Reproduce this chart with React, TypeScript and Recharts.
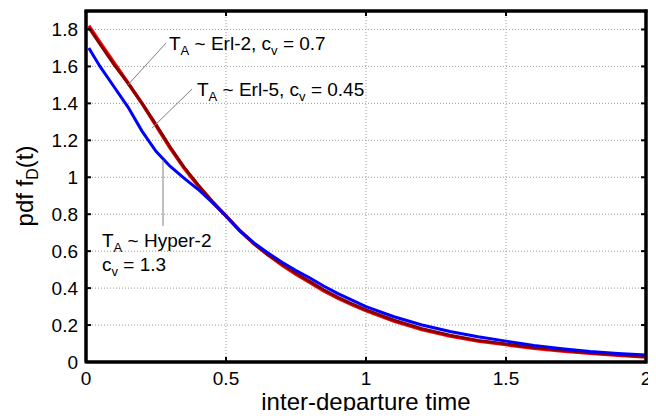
import React from 'react';
import { LineChart, Line, XAxis, YAxis, CartesianGrid, ReferenceLine, ReferenceArea } from 'recharts';

const times = [0.01, 0.05, 0.1, 0.15, 0.2, 0.25, 0.3, 0.35, 0.4, 0.45, 0.5, 0.55, 0.6, 0.65, 0.7, 0.75, 0.8, 0.85, 0.9, 0.95, 1.0, 1.1, 1.2, 1.3, 1.4, 1.5, 1.6, 1.7, 1.8, 1.9, 2.0];
const erl2 = [1.82, 1.73, 1.62, 1.51, 1.40, 1.28, 1.16, 1.05, 0.955, 0.87, 0.79, 0.71, 0.64, 0.58, 0.525, 0.475, 0.43, 0.385, 0.345, 0.31, 0.278, 0.222, 0.175, 0.14, 0.113, 0.094, 0.075, 0.06, 0.047, 0.036, 0.027];
const erl5 = [1.81, 1.72, 1.61, 1.51, 1.40, 1.285, 1.165, 1.055, 0.96, 0.87, 0.79, 0.71, 0.64, 0.58, 0.53, 0.48, 0.435, 0.39, 0.35, 0.315, 0.282, 0.226, 0.18, 0.145, 0.117, 0.097, 0.078, 0.063, 0.05, 0.039, 0.03];
const hyper2 = [1.70, 1.60, 1.49, 1.38, 1.25, 1.14, 1.06, 0.995, 0.935, 0.865, 0.79, 0.71, 0.645, 0.59, 0.54, 0.495, 0.455, 0.41, 0.37, 0.335, 0.30, 0.245, 0.2, 0.165, 0.137, 0.113, 0.09, 0.072, 0.057, 0.046, 0.038];

const xTicks = [0, 0.5, 1, 1.5, 2];
const yTicks = [0, 0.2, 0.4, 0.6, 0.8, 1, 1.2, 1.4, 1.6, 1.8];
const X_MAX = 2;
const Y_MAX = 1.9;

const data = times.map((t, i) => ({ t, erl2: erl2[i], erl5: erl5[i], hyper2: hyper2[i] }));

const W = 656;
const H = 419;
const MARGIN = { top: 11, right: 10, bottom: 0, left: 0 };
const Y_AXIS_W = 86;
const X_AXIS_H = 57;
const PLOT_L = MARGIN.left + Y_AXIS_W;
const PLOT_T = MARGIN.top;
const PLOT_W = W - MARGIN.left - MARGIN.right - Y_AXIS_W;
const PLOT_H = H - MARGIN.top - MARGIN.bottom - X_AXIS_H;
const PLOT_R = PLOT_L + PLOT_W;
const PLOT_B = PLOT_T + PLOT_H;
const px = (v: number) => PLOT_L + (v / X_MAX) * PLOT_W;
const py = (v: number) => PLOT_B - (v / Y_MAX) * PLOT_H;
const TICK_LEN = 5;

const FONT = '"Liberation Sans", Arial, Helvetica, sans-serif';
const TICK_FS = 19;
const fmt = (v: number) => String(Number(v.toFixed(1)));

const BottomTick = (p: any) => (
  <text x={p.x} y={p.y + 23} textAnchor="middle" fontSize={TICK_FS} fontFamily={FONT} fill="#000">{fmt(p.payload.value)}</text>
);
const LeftTick = (p: any) => (
  <text x={p.x - 8} y={p.y} dy="0.36em" textAnchor="end" fontSize={TICK_FS} fontFamily={FONT} fill="#000">{fmt(p.payload.value)}</text>
);

const ANN_FS = 19;
const SUB_FS = 13;

const Sub = ({ children }: { children: string }) => (
  <tspan fontSize={SUB_FS} dy={5}>{children}</tspan>
);
const Up = ({ children }: { children: string }) => (
  <tspan dy={-5}>{children}</tspan>
);

export default function App() {
  return (
    <div style={{ position: 'relative', width: W, height: H, margin: -8, background: '#fff', overflow: 'visible' }}>
      <LineChart width={W} height={H} data={data} margin={MARGIN}>
        <CartesianGrid stroke="#999" strokeDasharray="1 2" strokeWidth={1} />
        <XAxis dataKey="t" type="number" domain={[0, X_MAX]} ticks={xTicks} height={X_AXIS_H} tickSize={0} tickMargin={0}
          axisLine={{ stroke: '#000', strokeWidth: 3 }} tickLine={false} tick={<BottomTick />} interval={0} />
        <YAxis type="number" domain={[0, Y_MAX]} ticks={yTicks} width={Y_AXIS_W} tickSize={0} tickMargin={0}
          axisLine={{ stroke: '#000', strokeWidth: 3 }} tickLine={false} tick={<LeftTick />} interval={0} />
        <ReferenceArea x1={0} x2={X_MAX} y1={0} y2={Y_MAX} fill="#fff" fillOpacity={0} stroke="#000" strokeWidth={3} />
        <Line dataKey="erl2" stroke="#ff0000" strokeWidth={3.5} dot={false} isAnimationActive={false} type="linear" />
        <Line dataKey="erl5" stroke="#8b0000" strokeWidth={3} dot={false} isAnimationActive={false} type="linear" />
        <Line dataKey="hyper2" stroke="#0000ff" strokeWidth={3} dot={false} isAnimationActive={false} type="linear" />
        <ReferenceLine segment={[{ x: 0.286, y: 1.727 }, { x: 0.146, y: 1.494 }]} stroke="#808080" strokeWidth={1} />
        <ReferenceLine segment={[{ x: 0.379, y: 1.478 }, { x: 0.236, y: 1.267 }]} stroke="#808080" strokeWidth={1} />
        <ReferenceLine segment={[{ x: 0.275, y: 1.094 }, { x: 0.275, y: 0.737 }]} stroke="#808080" strokeWidth={1} />
      </LineChart>
      <svg width={W} height={H} style={{ position: 'absolute', left: 0, top: 0, pointerEvents: 'none', overflow: 'visible' }}>
        <line x1={PLOT_L - 1.5} y1={PLOT_T} x2={PLOT_R + 1.5} y2={PLOT_T} stroke="#000" strokeWidth={3} />
        <line x1={PLOT_R} y1={PLOT_T - 1.5} x2={PLOT_R} y2={PLOT_B + 1.5} stroke="#000" strokeWidth={3} />
        <g stroke="#000" strokeWidth={2}>
          {xTicks.slice(1, -1).map((v) => (
            <g key={'x' + v}>
              <line x1={px(v)} y1={PLOT_B} x2={px(v)} y2={PLOT_B - TICK_LEN} />
              <line x1={px(v)} y1={PLOT_T} x2={px(v)} y2={PLOT_T + TICK_LEN} />
            </g>
          ))}
          {yTicks.slice(1).map((v) => (
            <g key={'y' + v}>
              <line x1={PLOT_L} y1={py(v)} x2={PLOT_L + TICK_LEN} y2={py(v)} />
              <line x1={PLOT_R} y1={py(v)} x2={PLOT_R - TICK_LEN} y2={py(v)} />
            </g>
          ))}
        </g>
        <g fontFamily={FONT} fontSize={ANN_FS} fill="#000">
          <text x={169} y={50}>T<Sub>A</Sub><Up>{' ~ Erl-2, c'}</Up><Sub>v</Sub><Up>{' = 0.7'}</Up></text>
          <text x={197} y={96}>T<Sub>A</Sub><Up>{' ~ Erl-5, c'}</Up><Sub>v</Sub><Up>{' = 0.45'}</Up></text>
          <text x={102} y={247}>T<Sub>A</Sub><Up>{' ~ Hyper-2'}</Up></text>
          <text x={102} y={271}>c<Sub>v</Sub><Up>{' = 1.3'}</Up></text>
        </g>
        <text x={366} y={410} textAnchor="middle" fontFamily={FONT} fontSize={24} fill="#000">inter-departure time</text>
        <text transform="translate(33,186) rotate(-90)" textAnchor="middle" fontFamily={FONT} fontSize={24} fill="#000">
          pdf f<tspan fontSize={16} dy={5}>D</tspan><tspan dy={-5}>(t)</tspan>
        </text>
      </svg>
    </div>
  );
}
